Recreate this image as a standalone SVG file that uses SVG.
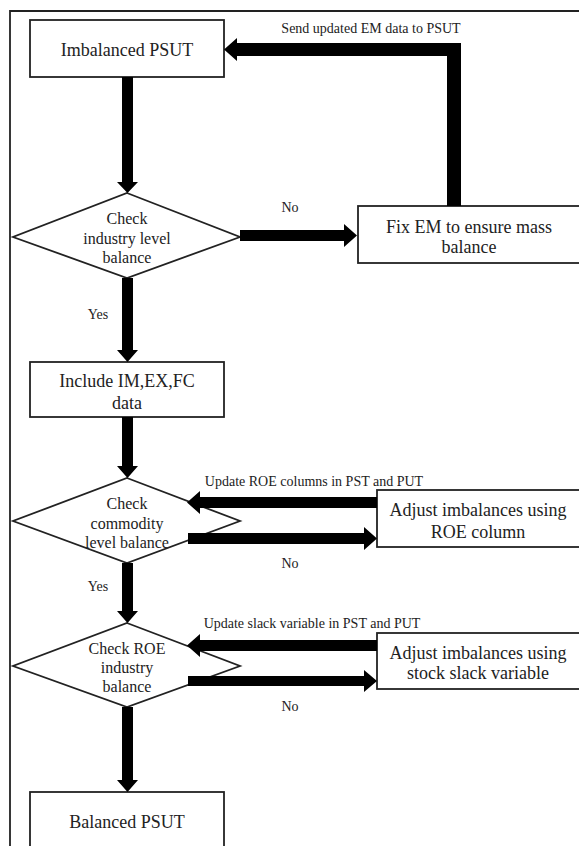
<svg xmlns="http://www.w3.org/2000/svg" width="579" height="846" viewBox="0 0 579 846">
<style>
.frame{fill:none;stroke:#222;stroke-width:1.8}
.box{fill:#fff;stroke:#222;stroke-width:1.8}
.t{font-family:"Liberation Serif","Times New Roman",serif;fill:#222;text-anchor:middle;dominant-baseline:central}
.bt{font-size:18px}
.dt{font-size:16px}
.lt{font-size:14px}
.arr{fill:#000;stroke:none}
</style>
<rect width="579" height="846" fill="#fff"/>
<path class="frame" d="M10,846 V11 H579"/>

<g id="imbalanced">
<rect class="box" x="30" y="20" width="194" height="57"/>
<text class="t bt" x="127" y="50">Imbalanced  PSUT</text>
</g>

<g id="check-industry">
<polygon class="box" points="127,193 240,237 127,278 13,237"/>
<text class="t dt" x="127" y="218">Check</text>
<text class="t dt" x="127" y="238">industry level</text>
<text class="t dt" x="127" y="257">balance</text>
</g>

<g id="fix-em">
<rect class="box" x="358" y="206" width="222" height="57"/>
<text class="t bt" x="469" y="227">Fix EM to ensure mass</text>
<text class="t bt" x="469" y="247">balance</text>
</g>

<g id="include">
<rect class="box" x="30" y="362" width="194" height="55"/>
<text class="t bt" x="127" y="381">Include IM,EX,FC</text>
<text class="t bt" x="127" y="403">data</text>
</g>

<g id="check-commodity">
<polygon class="box" points="127,478 240,521 127,563 13,521"/>
<text class="t dt" x="127" y="503">Check</text>
<text class="t dt" x="127" y="523">commodity</text>
<text class="t dt" x="127" y="542">level  balance</text>
</g>

<g id="adjust-roe">
<rect class="box" x="377" y="490" width="203" height="57"/>
<text class="t bt" x="478" y="510">Adjust imbalances using</text>
<text class="t bt" x="478" y="532">ROE column</text>
</g>

<g id="check-roe">
<polygon class="box" points="127,623 240,666 127,707 13,666"/>
<text class="t dt" x="127" y="648">Check ROE</text>
<text class="t dt" x="127" y="667">industry</text>
<text class="t dt" x="127" y="686">balance</text>
</g>

<g id="adjust-slack">
<rect class="box" x="377" y="633" width="203" height="56"/>
<text class="t bt" x="478" y="653">Adjust imbalances using</text>
<text class="t bt" x="478" y="673">stock slack variable</text>
</g>

<g id="balanced">
<rect class="box" x="30" y="792" width="194" height="80"/>
<text class="t bt" x="127" y="822">Balanced PSUT</text>
</g>

<g id="connectors">
<polygon class="arr" points="461,206 461,43 237,43 237,38 224,49.5 237,61 237,56 447,56 447,206"/>
<text class="t lt" x="371" y="28">Send updated EM data to PSUT</text>

<polygon class="arr" points="122,77 133,77 133,182 138,182 127.5,193 117,182 122,182"/>

<polygon class="arr" points="240,230 344,230 344,224 357,235.5 344,247 344,241 240,241"/>
<text class="t lt" x="290" y="207">No</text>

<polygon class="arr" points="122,278 133,278 133,350 138,350 127.5,362 117,350 122,350"/>
<text class="t lt" x="98" y="314">Yes</text>

<polygon class="arr" points="122,417 133,417 133,466 138,466 127.5,478 117,466 122,466"/>

<polygon class="arr" points="377,497 200,497 200,491 187,502.5 200,514 200,508 377,508"/>
<text class="t lt" x="314" y="481">Update ROE columns in PST and PUT</text>

<polygon class="arr" points="188,533 364,533 364,527 377,538.5 364,550 364,544 188,544"/>
<text class="t lt" x="290" y="563">No</text>

<polygon class="arr" points="122,563 133,563 133,611 138,611 127.5,623 117,611 122,611"/>
<text class="t lt" x="98" y="586">Yes</text>

<polygon class="arr" points="377,640 200,640 200,634 187,645.5 200,657 200,651 377,651"/>
<text class="t lt" x="312" y="623">Update slack variable in PST and PUT</text>

<polygon class="arr" points="188,676 364,676 364,670 377,681 364,692 364,686 188,686"/>
<text class="t lt" x="290" y="706">No</text>

<polygon class="arr" points="122,707 133,707 133,780 138,780 127.5,792 117,780 122,780"/>
</g>
</svg>
